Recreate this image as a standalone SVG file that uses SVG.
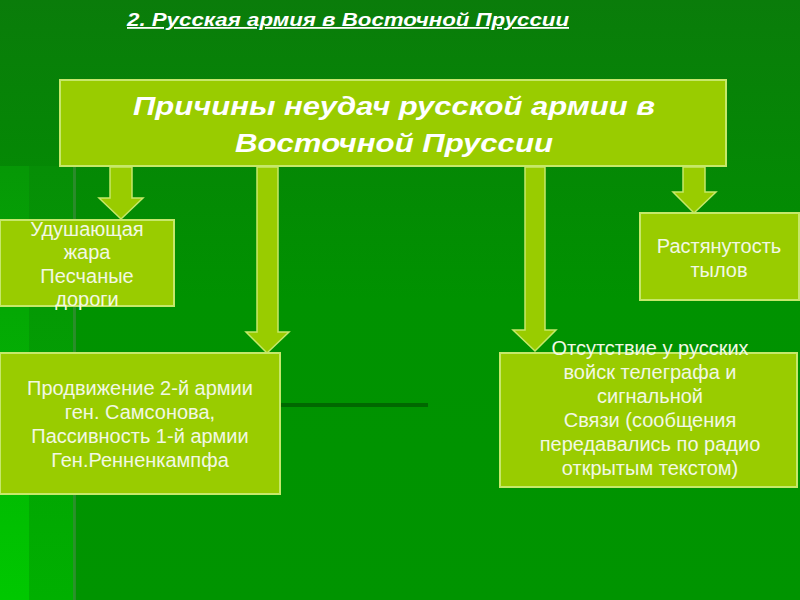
<svg xmlns="http://www.w3.org/2000/svg" width="800" height="600" viewBox="0 0 800 600">
<defs>
<linearGradient id="bg" x1="0" y1="0" x2="0" y2="1">
<stop offset="0" stop-color="#0a7c0a"/>
<stop offset="0.5" stop-color="#009200"/>
<stop offset="1" stop-color="#009400"/>
</linearGradient>
<linearGradient id="strip" x1="0" y1="0" x2="0" y2="1">
<stop offset="0" stop-color="#068e06"/>
<stop offset="1" stop-color="#00b000"/>
</linearGradient>
<linearGradient id="strip2" x1="0" y1="0" x2="0" y2="1">
<stop offset="0" stop-color="#069806"/>
<stop offset="1" stop-color="#00c800"/>
</linearGradient>
</defs>
<style>
.box{fill:#99cc00;stroke:#c6e86a;stroke-width:2}
.arr{fill:#99cc00;stroke:#c6e86a;stroke-width:1.5}
.t{font-family:"Liberation Sans",Arial,sans-serif;font-size:20px;fill:#f2f8e4;text-anchor:middle}
.h{font-family:"Liberation Sans",Arial,sans-serif;font-weight:bold;font-style:italic;fill:#ffffff;text-anchor:middle}
</style>
<rect x="0" y="0" width="800" height="600" fill="url(#bg)"/>
<rect x="0" y="166" width="75" height="434" fill="url(#strip)"/>
<rect x="0" y="166" width="29" height="434" fill="url(#strip2)"/>
<rect x="73" y="166" width="3" height="434" fill="#3a8a3a" opacity="0.7"/>
<rect x="280" y="403" width="148" height="4" fill="#006800"/>

<text x="348" y="26" class="h" font-size="18" text-decoration="underline" textLength="442" lengthAdjust="spacingAndGlyphs">2. Русская армия в Восточной Пруссии</text>

<g id="connectors">
<polygon class="arr" points="110,167 132,167 132,198 143,198 121,219 99,198 110,198"/>
<polygon class="arr" points="257,167 278,167 278,332 289,332 267,353 246,332 257,332"/>
<polygon class="arr" points="525,167 545,167 545,330 556,330 535,351 513,330 525,330"/>
<polygon class="arr" points="683,167 705,167 705,192 716,192 694,213 673,192 683,192"/>
</g>

<g id="main">
<rect class="box" x="60" y="80" width="666" height="86"/>
<text x="394" y="115" class="h" font-size="25" textLength="522" lengthAdjust="spacingAndGlyphs">Причины неудач русской армии в</text>
<text x="394" y="152" class="h" font-size="25" textLength="318" lengthAdjust="spacingAndGlyphs">Восточной Пруссии</text>
</g>

<g id="heat">
<rect class="box" x="0" y="220" width="174" height="86"/>
<text x="87" y="236" class="t">Удушающая</text>
<text x="87" y="259" class="t">жара</text>
<text x="87" y="283" class="t">Песчаные</text>
<text x="87" y="306" class="t">дороги</text>
</g>

<g id="rear">
<rect class="box" x="640" y="213" width="159" height="87"/>
<text x="719" y="253" class="t">Растянутость</text>
<text x="719" y="277" class="t">тылов</text>
</g>

<g id="armies">
<rect class="box" x="0" y="353" width="280" height="141"/>
<text x="140" y="395" class="t">Продвижение 2-й армии</text>
<text x="140" y="419" class="t">ген. Самсонова,</text>
<text x="140" y="443" class="t">Пассивность 1-й армии</text>
<text x="140" y="467" class="t">Ген.Ренненкампфа</text>
</g>

<g id="telegraph">
<rect class="box" x="500" y="353" width="297" height="134"/>
<text x="650" y="355" class="t">Отсутствие у русских</text>
<text x="650" y="379" class="t">войск телеграфа и</text>
<text x="650" y="403" class="t">сигнальной</text>
<text x="650" y="427" class="t">Связи (сообщения</text>
<text x="650" y="451" class="t">передавались по радио</text>
<text x="650" y="475" class="t">открытым текстом)</text>
</g>
</svg>
